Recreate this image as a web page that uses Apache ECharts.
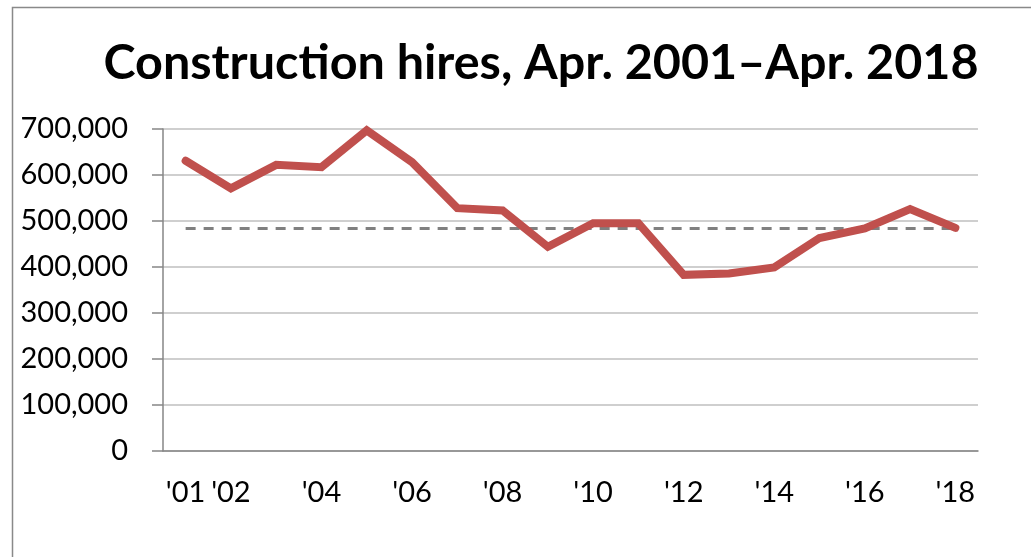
<!DOCTYPE html>
<html>
<head>
<meta charset="utf-8">
<script src="https://cdn.jsdelivr.net/npm/echarts@6/dist/echarts.min.js"></script>
<style>
  html, body { margin: 0; padding: 0; background: #fff; }
  #chart { width: 1031px; height: 557px; }
</style>
</head>
<body>
<div id="chart"></div>
<script>
// data
var years = ["'01", "'02", "'03", "'04", "'05", "'06", "'07", "'08", "'09",
    "'10", "'11", "'12", "'13", "'14", "'15", "'16", "'17", "'18"];
var hires = [631000, 571000, 622000, 617000, 697000, 628000, 528000, 523000, 444000,
    495000, 495000, 383000, 386000, 399000, 463000, 484000, 526000, 485000];
var latestLevel = 485000; // Apr. 2018 level, dashed reference line
var yTicks = [0, 100000, 200000, 300000, 400000, 500000, 600000, 700000];

var chart = echarts.init(document.getElementById('chart'));
var font = 'Lato';

var option = {
    backgroundColor: '#fff',
    animation: false,
    title: {
        text: 'Construction hires, Apr. 2001\u2013Apr. 2018',
        left: 536,
        textAlign: 'center',
        top: 34,
        textStyle: {
            fontFamily: font,
            fontWeight: 'bold',
            fontSize: 48.5,
            color: '#000'
        }
    },
    graphic: [{
        // chart frame
        type: 'rect',
        shape: { x: 12.5, y: 7.5, width: 1040, height: 580 },
        style: { fill: 'none', stroke: '#898989', lineWidth: 1.5 },
        silent: true
    }],
    grid: {
        left: 163,
        right: 53,
        top: 129,
        bottom: 106
    },
    xAxis: {
        type: 'category',
        data: years,
        boundaryGap: true,
        axisLine: { lineStyle: { color: '#868686', width: 1.5 } },
        axisTick: {
            inside: true,
            length: 10,
            interval: 0,
            lineStyle: { color: '#868686', width: 1.5 }
        },
        axisLabel: {
            // first year, then every other year
            interval: function(i) { return i === 0 || i % 2 === 1; },
            margin: 27,
            fontFamily: font,
            fontSize: 29,
            color: '#000'
        }
    },
    yAxis: {
        type: 'value',
        min: yTicks[0],
        max: yTicks[yTicks.length - 1],
        interval: 100000,
        axisLine: { show: true, lineStyle: { color: '#868686', width: 1.5 } },
        axisTick: { show: true, length: 11, lineStyle: { color: '#868686', width: 1.5 } },
        splitLine: { lineStyle: { color: '#bfbfbf', width: 1.5 } },
        axisLabel: {
            margin: 35,
            fontFamily: font,
            fontSize: 29,
            color: '#000',
            formatter: function(v) { return v.toLocaleString('en-US'); }
        }
    },
    series: [{
        type: 'line',
        data: hires,
        symbol: 'none',
        lineStyle: { color: '#c0504d', width: 8, cap: 'round', join: 'miter' },
        z: 3,
        markLine: {
            symbol: 'none',
            silent: true,
            label: { show: false },
            lineStyle: { color: '#808080', width: 3, type: [10, 8] },
            data: [[{ coord: [0, latestLevel] }, { coord: [years.length - 1, latestLevel] }]],
            z: 2
        }
    }]
};

chart.setOption(option);
window.addEventListener('resize', chart.resize);
</script>
</body>
</html>
